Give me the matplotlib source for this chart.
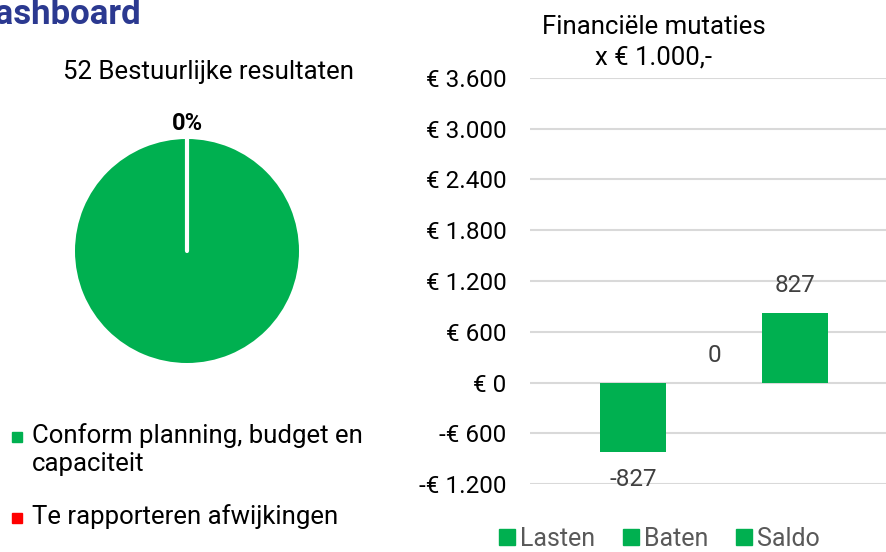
import matplotlib
matplotlib.use("Agg")
import matplotlib.pyplot as plt
from matplotlib.lines import Line2D

# data
pie_labels = ["Conform planning, budget en\ncapaciteit", "Te rapporteren afwijkingen"]
pie_values = [52, 0]
pie_colors = ["#00B050", "#FF0000"]

categories = ["Lasten", "Baten", "Saldo"]
values = [-827, 0, 827]
yticks = [-1200, -600, 0, 600, 1200, 1800, 2400, 3000, 3600]

W, H = 887, 552
plt.rcParams['font.family'] = ['Roboto', 'DejaVu Sans']


def euro(v):
    s = f"{abs(v):,}".replace(",", ".")
    return ("-€ " if v < 0 else "€ ") + s


fig = plt.figure(figsize=(W / 100, H / 100), dpi=100)

# overlay in pixel coords for loose texts
ov = fig.add_axes([0, 0, 1, 1], zorder=-1)
ov.set_xlim(0, W)
ov.set_ylim(H, 0)
ov.axis("off")

# heading, cut off at the left like the original
ov.text(-27, 14, "Dashboard", fontsize=25, fontweight="bold",
        color="#2B3990", va="center", ha="left")

# ---- pie ----
ov.text(209, 72, f"{sum(pie_values)} Bestuurlijke resultaten",
        fontsize=18.5, ha="center", va="center")
pax = fig.add_axes([75 / W, 1 - 363 / H, 224 / W, 224 / H])
pax.pie(pie_values, colors=pie_colors, startangle=90, counterclock=False,
        radius=1)
pax.plot([0, 0], [0, 1], color="white", lw=3, solid_capstyle="round")
pct = pie_values[1] / sum(pie_values) * 100
pax.text(0, 1.14, f"{pct:.0f}%", ha="center", va="center", fontsize=17,
         fontweight="bold")
pax.set_xlim(-1, 1)
pax.set_ylim(-1, 1)
pax.axis("off")

# pie legend: marker lines up with first text line
for ly, lab, c in zip([437, 518], pie_labels, pie_colors):
    ov.plot(17, ly, marker="s", color=c, markersize=6.5)
    ov.text(32, ly - 14, lab, fontsize=18.5, ha="left", va="top", linespacing=1.2)

# ---- bars ----
bax = fig.add_axes([530 / W, 1 - 484 / H, 357 / W, 406 / H])
x = list(range(len(categories)))
bax.bar(x, values, width=0.815, color="#00B050", zorder=3)
bax.set_ylim(yticks[0], yticks[-1])
bax.set_xlim(-1.272, 3.136)
bax.set_yticks(yticks)
bax.set_yticklabels([euro(v) for v in yticks], fontsize=17.5)
bax.tick_params(axis="y", length=0, pad=17)
bax.set_xticks([])
bax.grid(axis="y", color="#D9D9D9", lw=1.5, zorder=0)
for s in bax.spines.values():
    s.set_visible(False)

for xi, v in zip(x, values):
    off = -19.5 if v < 0 else 19.5
    bax.annotate(f"{v}", (xi, v), xytext=(0, off), textcoords="offset points",
                 ha="center", va="center", fontsize=17.5, color="#404040")

ov.text(654, 27, "Financiële mutaties", fontsize=18.5, ha="center", va="center")
ov.text(654, 57, "x € 1.000,-", fontsize=18.5, ha="center", va="center")

bh = [Line2D([], [], marker="s", ls="", color="#00B050", markersize=12) for _ in categories]
leg = fig.legend(bh, categories, loc="center", bbox_to_anchor=(658 / W, 1 - 539 / H), ncol=3,
                 frameon=False, fontsize=18, handletextpad=0.05, columnspacing=1.0,
                 handlelength=0.9, borderpad=0)
for t in leg.get_texts():
    t.set_color("#595959")

fig.savefig("out.png", dpi=100)
